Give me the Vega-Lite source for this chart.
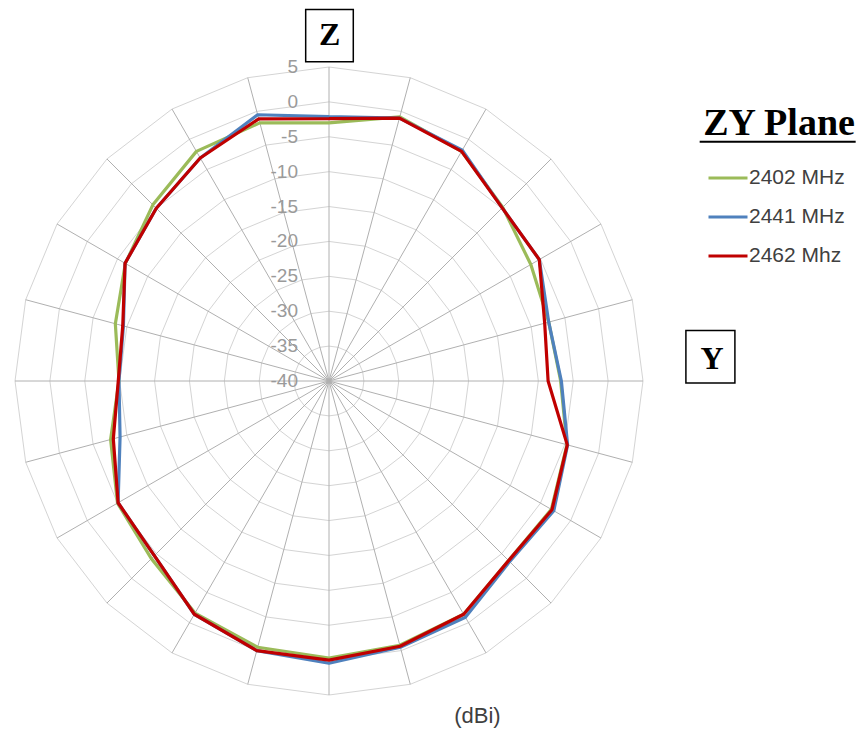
{
  "$schema": "https://vega.github.io/schema/vega-lite/v6.json",
  "width": 628,
  "height": 628,
  "autosize": {"type": "none"},
  "padding": {"left": 15, "top": 67, "right": 220, "bottom": 35},
  "background": "white",
  "config": {"view": {"stroke": null}},
  "data": {"values": [{"note": "annotation"}]},
  "datasets": {
    "pattern": [
      {"a": 0, "f": "2402 MHz", "g": -3.0}, {"a": 15, "f": "2402 MHz", "g": -0.8}, {"a": 30, "f": "2402 MHz", "g": -2.0}, {"a": 45, "f": "2402 MHz", "g": -4.8},
      {"a": 60, "f": "2402 MHz", "g": -6.6}, {"a": 75, "f": "2402 MHz", "g": -7.4}, {"a": 90, "f": "2402 MHz", "g": -6.8}, {"a": 105, "f": "2402 MHz", "g": -4.7},
      {"a": 120, "f": "2402 MHz", "g": -3.2}, {"a": 135, "f": "2402 MHz", "g": -3.6}, {"a": 150, "f": "2402 MHz", "g": -1.4}, {"a": 165, "f": "2402 MHz", "g": -0.8},
      {"a": 180, "f": "2402 MHz", "g": -0.3}, {"a": 195, "f": "2402 MHz", "g": -0.5}, {"a": 210, "f": "2402 MHz", "g": -1.6}, {"a": 225, "f": "2402 MHz", "g": -4.0},
      {"a": 240, "f": "2402 MHz", "g": -5.0}, {"a": 255, "f": "2402 MHz", "g": -7.6}, {"a": 270, "f": "2402 MHz", "g": -9.9}, {"a": 285, "f": "2402 MHz", "g": -8.3},
      {"a": 300, "f": "2402 MHz", "g": -6.3}, {"a": 315, "f": "2402 MHz", "g": -4.3}, {"a": 330, "f": "2402 MHz", "g": -2.0}, {"a": 345, "f": "2402 MHz", "g": -1.7},
      {"a": 360, "f": "2402 MHz", "g": -3.0},
      {"a": 0, "f": "2441 MHz", "g": -2.1}, {"a": 15, "f": "2441 MHz", "g": -1.0}, {"a": 30, "f": "2441 MHz", "g": -1.8}, {"a": 45, "f": "2441 MHz", "g": -4.9},
      {"a": 60, "f": "2441 MHz", "g": -5.2}, {"a": 75, "f": "2441 MHz", "g": -7.4}, {"a": 90, "f": "2441 MHz", "g": -6.7}, {"a": 105, "f": "2441 MHz", "g": -4.6},
      {"a": 120, "f": "2441 MHz", "g": -2.8}, {"a": 135, "f": "2441 MHz", "g": -3.4}, {"a": 150, "f": "2441 MHz", "g": -0.9}, {"a": 165, "f": "2441 MHz", "g": -0.5},
      {"a": 180, "f": "2441 MHz", "g": 0.45}, {"a": 195, "f": "2441 MHz", "g": 0.0}, {"a": 210, "f": "2441 MHz", "g": -1.4}, {"a": 225, "f": "2441 MHz", "g": -4.6},
      {"a": 240, "f": "2441 MHz", "g": -5.1}, {"a": 255, "f": "2441 MHz", "g": -9.0}, {"a": 270, "f": "2441 MHz", "g": -9.9}, {"a": 285, "f": "2441 MHz", "g": -9.5},
      {"a": 300, "f": "2441 MHz", "g": -6.25}, {"a": 315, "f": "2441 MHz", "g": -5.0}, {"a": 330, "f": "2441 MHz", "g": -3.1}, {"a": 345, "f": "2441 MHz", "g": -0.5},
      {"a": 360, "f": "2441 MHz", "g": -2.1},
      {"a": 0, "f": "2462 Mhz", "g": -2.4}, {"a": 15, "f": "2462 Mhz", "g": -1.0}, {"a": 30, "f": "2462 Mhz", "g": -2.0}, {"a": 45, "f": "2462 Mhz", "g": -4.9},
      {"a": 60, "f": "2462 Mhz", "g": -5.2}, {"a": 75, "f": "2462 Mhz", "g": -8.0}, {"a": 90, "f": "2462 Mhz", "g": -8.6}, {"a": 105, "f": "2462 Mhz", "g": -4.65},
      {"a": 120, "f": "2462 Mhz", "g": -3.1}, {"a": 135, "f": "2462 Mhz", "g": -3.6}, {"a": 150, "f": "2462 Mhz", "g": -1.4}, {"a": 165, "f": "2462 Mhz", "g": -0.65},
      {"a": 180, "f": "2462 Mhz", "g": 0.0}, {"a": 195, "f": "2462 Mhz", "g": 0.0}, {"a": 210, "f": "2462 Mhz", "g": -1.4}, {"a": 225, "f": "2462 Mhz", "g": -4.6},
      {"a": 240, "f": "2462 Mhz", "g": -5.1}, {"a": 255, "f": "2462 Mhz", "g": -8.0}, {"a": 270, "f": "2462 Mhz", "g": -9.8}, {"a": 285, "f": "2462 Mhz", "g": -9.4},
      {"a": 300, "f": "2462 Mhz", "g": -6.25}, {"a": 315, "f": "2462 Mhz", "g": -5.0}, {"a": 330, "f": "2462 Mhz", "g": -3.1}, {"a": 345, "f": "2462 Mhz", "g": -1.1},
      {"a": 360, "f": "2462 Mhz", "g": -2.4}
    ],
    "grid": [
      {"a": 0, "lv": [-35, -30, -25, -20, -15, -10, -5, 0, 5]},
      {"a": 15, "lv": [-35, -30, -25, -20, -15, -10, -5, 0, 5]},
      {"a": 30, "lv": [-35, -30, -25, -20, -15, -10, -5, 0, 5]},
      {"a": 45, "lv": [-35, -30, -25, -20, -15, -10, -5, 0, 5]},
      {"a": 60, "lv": [-35, -30, -25, -20, -15, -10, -5, 0, 5]},
      {"a": 75, "lv": [-35, -30, -25, -20, -15, -10, -5, 0, 5]},
      {"a": 90, "lv": [-35, -30, -25, -20, -15, -10, -5, 0, 5]},
      {"a": 105, "lv": [-35, -30, -25, -20, -15, -10, -5, 0, 5]},
      {"a": 120, "lv": [-35, -30, -25, -20, -15, -10, -5, 0, 5]},
      {"a": 135, "lv": [-35, -30, -25, -20, -15, -10, -5, 0, 5]},
      {"a": 150, "lv": [-35, -30, -25, -20, -15, -10, -5, 0, 5]},
      {"a": 165, "lv": [-35, -30, -25, -20, -15, -10, -5, 0, 5]},
      {"a": 180, "lv": [-35, -30, -25, -20, -15, -10, -5, 0, 5]},
      {"a": 195, "lv": [-35, -30, -25, -20, -15, -10, -5, 0, 5]},
      {"a": 210, "lv": [-35, -30, -25, -20, -15, -10, -5, 0, 5]},
      {"a": 225, "lv": [-35, -30, -25, -20, -15, -10, -5, 0, 5]},
      {"a": 240, "lv": [-35, -30, -25, -20, -15, -10, -5, 0, 5]},
      {"a": 255, "lv": [-35, -30, -25, -20, -15, -10, -5, 0, 5]},
      {"a": 270, "lv": [-35, -30, -25, -20, -15, -10, -5, 0, 5]},
      {"a": 285, "lv": [-35, -30, -25, -20, -15, -10, -5, 0, 5]},
      {"a": 300, "lv": [-35, -30, -25, -20, -15, -10, -5, 0, 5]},
      {"a": 315, "lv": [-35, -30, -25, -20, -15, -10, -5, 0, 5]},
      {"a": 330, "lv": [-35, -30, -25, -20, -15, -10, -5, 0, 5]},
      {"a": 345, "lv": [-35, -30, -25, -20, -15, -10, -5, 0, 5]},
      {"a": 360, "lv": [-35, -30, -25, -20, -15, -10, -5, 0, 5]}
    ],
    "levels": [
      {"lv": -40}, {"lv": -35}, {"lv": -30}, {"lv": -25}, {"lv": -20},
      {"lv": -15}, {"lv": -10}, {"lv": -5}, {"lv": 0}, {"lv": 5}
    ]
  },
  "layer": [
    {
      "data": {"name": "grid"},
      "transform": [
        {"flatten": ["lv"]},
        {"calculate": "(datum.lv + 40) * sin(datum.a * PI / 180)", "as": "x"},
        {"calculate": "(datum.lv + 40) * cos(datum.a * PI / 180)", "as": "y"}
      ],
      "mark": {"type": "line", "stroke": "#d4d4d4", "strokeWidth": 1},
      "encoding": {
        "x": {"field": "x", "type": "quantitative", "scale": {"domain": [-45, 45], "nice": false, "zero": false}, "axis": null},
        "y": {"field": "y", "type": "quantitative", "scale": {"domain": [-45, 45], "nice": false, "zero": false}, "axis": null},
        "detail": {"field": "lv", "type": "nominal"},
        "order": {"field": "a", "type": "quantitative"}
      }
    },
    {
      "data": {"name": "grid"},
      "transform": [
        {"filter": "datum.a < 360"},
        {"calculate": "45 * sin(datum.a * PI / 180)", "as": "x"},
        {"calculate": "45 * cos(datum.a * PI / 180)", "as": "y"},
        {"calculate": "0", "as": "o"}
      ],
      "mark": {"type": "rule", "stroke": "#b0b0b0", "strokeWidth": 1},
      "encoding": {
        "x": {"field": "o", "type": "quantitative", "scale": {"domain": [-45, 45], "nice": false, "zero": false}, "axis": null},
        "y": {"field": "o", "type": "quantitative", "scale": {"domain": [-45, 45], "nice": false, "zero": false}, "axis": null},
        "x2": {"field": "x"},
        "y2": {"field": "y"}
      }
    },
    {
      "data": {"name": "levels"},
      "transform": [{"calculate": "datum.lv + 40", "as": "y"}, {"calculate": "0", "as": "o"}, {"calculate": "toString(datum.lv)", "as": "label"}],
      "mark": {"type": "text", "align": "right", "baseline": "middle", "dx": -31, "font": "Liberation Sans", "fontSize": 19, "color": "#9a9a9a"},
      "encoding": {
        "x": {"field": "o", "type": "quantitative", "scale": {"domain": [-45, 45], "nice": false, "zero": false}, "axis": null},
        "y": {"field": "y", "type": "quantitative", "scale": {"domain": [-45, 45], "nice": false, "zero": false}, "axis": null},
        "text": {"field": "label", "type": "nominal"}
      }
    },
    {
      "data": {"name": "pattern"},
      "transform": [
        {"calculate": "(datum.g + 40) * sin(datum.a * PI / 180)", "as": "x"},
        {"calculate": "(datum.g + 40) * cos(datum.a * PI / 180)", "as": "y"}
      ],
      "mark": {"type": "line", "strokeWidth": 3.2, "strokeJoin": "round"},
      "encoding": {
        "x": {"field": "x", "type": "quantitative", "scale": {"domain": [-45, 45], "nice": false, "zero": false}, "axis": null},
        "y": {"field": "y", "type": "quantitative", "scale": {"domain": [-45, 45], "nice": false, "zero": false}, "axis": null},
        "order": {"field": "a", "type": "quantitative"},
        "color": {
          "field": "f",
          "type": "nominal",
          "scale": {"domain": ["2402 MHz", "2441 MHz", "2462 Mhz"], "range": ["#9BBB59", "#4F81BD", "#C00000"]},
          "legend": {
            "orient": "none",
            "legendX": 692,
            "legendY": 90,
            "title": null,
            "padding": 0,
            "symbolType": "stroke",
            "symbolSize": 1521,
            "symbolStrokeWidth": 3,
            "labelFont": "Liberation Sans",
            "labelFontSize": 21,
            "labelColor": "#404040",
            "labelOffset": 0,
            "rowPadding": 8
          }
        }
      }
    },
    {
      "mark": {"type": "point", "shape": "M-1,-1.1L1,-1.1L1,1.1L-1,1.1Z", "size": 2266, "filled": true, "fill": "white", "stroke": "black", "strokeWidth": 1.5, "opacity": 1},
      "encoding": {
        "x": {"datum": 0.07, "type": "quantitative", "scale": {"domain": [-45, 45], "nice": false, "zero": false}, "axis": null},
        "y": {"datum": 49.5, "type": "quantitative", "scale": {"domain": [-45, 45], "nice": false, "zero": false}, "axis": null}
      }
    },
    {
      "mark": {"type": "point", "shape": "M-1,-1.07L1,-1.07L1,1.07L-1,1.07Z", "size": 2401, "filled": true, "fill": "white", "stroke": "black", "strokeWidth": 1.5, "opacity": 1},
      "encoding": {
        "x": {"datum": 54.66, "type": "quantitative", "scale": {"domain": [-45, 45], "nice": false, "zero": false}, "axis": null},
        "y": {"datum": 3.48, "type": "quantitative", "scale": {"domain": [-45, 45], "nice": false, "zero": false}, "axis": null}
      }
    },
    {
      "mark": {"type": "text", "text": "Z", "align": "center", "baseline": "alphabetic", "font": "Liberation Serif", "fontWeight": "bold", "fontSize": 32, "color": "black"},
      "encoding": {
        "x": {"datum": 0.1, "type": "quantitative", "scale": {"domain": [-45, 45], "nice": false, "zero": false}, "axis": null},
        "y": {"datum": 48.1, "type": "quantitative", "scale": {"domain": [-45, 45], "nice": false, "zero": false}, "axis": null}
      }
    },
    {
      "mark": {"type": "text", "text": "Y", "align": "center", "baseline": "alphabetic", "font": "Liberation Serif", "fontWeight": "bold", "fontSize": 32, "color": "black"},
      "encoding": {
        "x": {"datum": 54.9, "type": "quantitative", "scale": {"domain": [-45, 45], "nice": false, "zero": false}, "axis": null},
        "y": {"datum": 1.7, "type": "quantitative", "scale": {"domain": [-45, 45], "nice": false, "zero": false}, "axis": null}
      }
    },
    {
      "mark": {"type": "text", "text": "ZY Plane", "align": "center", "baseline": "alphabetic", "font": "Liberation Serif", "fontWeight": "bold", "fontSize": 38, "color": "black"},
      "encoding": {
        "x": {"datum": 64.5, "type": "quantitative", "scale": {"domain": [-45, 45], "nice": false, "zero": false}, "axis": null},
        "y": {"datum": 35.24, "type": "quantitative", "scale": {"domain": [-45, 45], "nice": false, "zero": false}, "axis": null}
      }
    },
    {
      "mark": {"type": "point", "shape": "M-1,0L1,0", "size": 24336, "filled": false, "stroke": "black", "strokeWidth": 2, "opacity": 1},
      "encoding": {
        "x": {"datum": 64.3, "type": "quantitative", "scale": {"domain": [-45, 45], "nice": false, "zero": false}, "axis": null},
        "y": {"datum": 34.28, "type": "quantitative", "scale": {"domain": [-45, 45], "nice": false, "zero": false}, "axis": null}
      }
    },
    {
      "mark": {"type": "text", "text": "(dBi)", "align": "center", "baseline": "middle", "font": "Liberation Sans", "fontSize": 22, "color": "#404040"},
      "encoding": {
        "x": {"datum": 21.27, "type": "quantitative", "scale": {"domain": [-45, 45], "nice": false, "zero": false}, "axis": null},
        "y": {"datum": -48.0, "type": "quantitative", "scale": {"domain": [-45, 45], "nice": false, "zero": false}, "axis": null}
      }
    }
  ]
}
